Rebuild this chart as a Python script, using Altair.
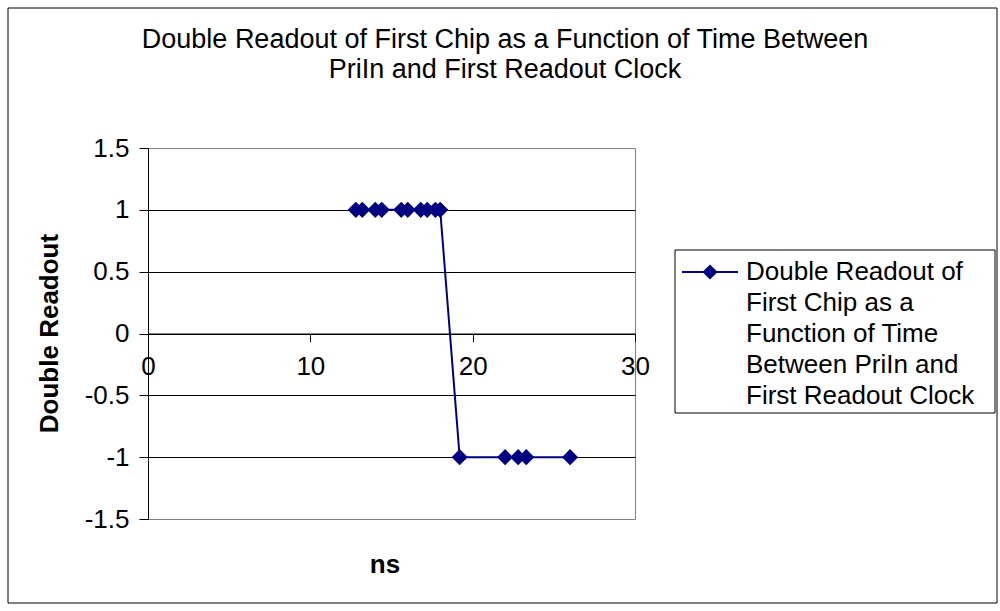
import altair as alt
import pandas as pd

# data
ns = [12.8, 13.2, 14.0, 14.4, 15.6, 16.0, 16.8, 17.2, 17.7, 18.0, 19.2, 22.0, 22.8, 23.3, 26.0]
readout = [1, 1, 1, 1, 1, 1, 1, 1, 1, 1, -1, -1, -1, -1, -1]
x_ticks = [0, 10, 20, 30]
y_ticks = [-1.5, -1, -0.5, 0, 0.5, 1, 1.5]
title_text = "Double Readout of First Chip as a Function of Time Between\nPriIn and First Readout Clock"
legend_text = "Double Readout of\nFirst Chip as a\nFunction of Time\nBetween PriIn and\nFirst Readout Clock"
x_title = "ns"
y_title = "Double Readout"

FONT = "Liberation Sans"
FS = 26
W, H = 487, 371
NAVY = "#000080"

df = pd.DataFrame({"ns": ns, "readout": readout})
one = pd.DataFrame({"a": [0]})

xscale = alt.Scale(domain=[0, 30], nice=False)
yscale = alt.Scale(domain=[-1.5, 1.5], nice=False)

base = alt.Chart(df).encode(
    x=alt.X("ns:Q", scale=xscale,
            axis=alt.Axis(values=x_ticks, title=None, grid=False, offset=-H / 2,
                          domainColor="black", tickColor="black", tickSize=8,
                          labelFontSize=FS, labelFont=FONT, labelColor="black",
                          labelPadding=12, labelFlush=False, labelOverlap=False)),
    y=alt.Y("readout:Q", scale=yscale,
            axis=alt.Axis(values=y_ticks, title=None, grid=True,
                          gridColor={"condition": {"test": "abs(datum.value) == 1.5", "value": "#808080"}, "value": "black"},
                          gridOpacity=1, domainColor="black", tickColor="black", tickSize=9,
                          labelFontSize=FS, labelFont=FONT, labelColor="black",
                          labelPadding=10, labelExpr="'' + datum.value",
                          labelFlush=False, labelOverlap=False)),
)

line = base.mark_line(color=NAVY, strokeWidth=2)
pts = base.mark_point(shape="diamond", filled=True, color=NAVY, size=260, opacity=1)

frame = alt.Chart(one).mark_rect(fill=None, stroke="black", strokeWidth=1).encode(
    x=alt.value(-140), x2=alt.value(849), y=alt.value(-140), y2=alt.value(455))

title = alt.Chart(pd.DataFrame({"t": [title_text]})).mark_text(
    font=FONT, fontSize=27, lineBreak="\n", lineHeight=30, align="center", baseline="middle",
    color="black").encode(x=alt.value(357), y=alt.value(-108), text="t:N")

ytitle = alt.Chart(pd.DataFrame({"t": [y_title]})).mark_text(
    font=FONT, fontSize=FS, fontWeight="bold", angle=270, align="center", baseline="middle",
    color="black").encode(x=alt.value(-98), y=alt.value(H / 2), text="t:N")

xtitle = alt.Chart(pd.DataFrame({"t": [x_title]})).mark_text(
    font=FONT, fontSize=FS, fontWeight="bold", align="center", baseline="middle",
    color="black").encode(x=alt.value(237), y=alt.value(417), text="t:N")

lbox = alt.Chart(one).mark_rect(fill="white", stroke="black", strokeWidth=1).encode(
    x=alt.value(527), x2=alt.value(847), y=alt.value(102), y2=alt.value(265))
lline = alt.Chart(one).mark_rule(color=NAVY, strokeWidth=2).encode(
    x=alt.value(534), x2=alt.value(590), y=alt.value(124))
lpt = alt.Chart(one).mark_point(shape="diamond", filled=True, color=NAVY, size=230, opacity=1).encode(
    x=alt.value(562), y=alt.value(124))
ltext = alt.Chart(pd.DataFrame({"t": [legend_text]})).mark_text(
    font=FONT, fontSize=FS, lineBreak="\n", lineHeight=31, align="left", baseline="middle",
    color="black").encode(x=alt.value(598), y=alt.value(124), text="t:N")

chart = alt.layer(frame, line, pts, title, ytitle, xtitle, lbox, lline, lpt, ltext).properties(
    width=W, height=H,
    autosize=alt.AutoSizeParams(type="none"),
    padding={"left": 148, "top": 148, "right": 365, "bottom": 92},
    background="white",
).configure_view(stroke="#808080", strokeWidth=1)

chart.save("out.html", embed_options={"renderer": "svg", "actions": False})
